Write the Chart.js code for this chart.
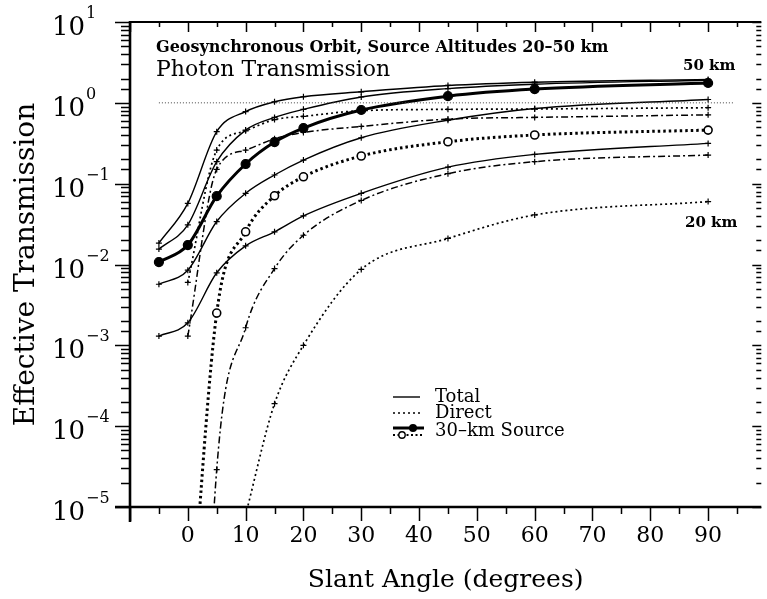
<!DOCTYPE html>
<html>
<head>
<meta charset="utf-8">
<script src="https://cdn.jsdelivr.net/npm/chart.js@4.4.1/dist/chart.umd.min.js"></script>
<style>
  html, body { margin: 0; padding: 0; background: #fff; overflow: hidden; }
</style>
</head>
<body>
<canvas id="myChart" width="767" height="599"></canvas>
<script>
// slant angles (degrees) where the curves were computed
const angles = [-5, 0, 5, 10, 15, 20, 30, 45, 60, 90];

// total transmission, one list per source altitude
const total50 = [0.0184, 0.057, 0.44, 0.78, 1.03, 1.19, 1.37, 1.64, 1.80, 1.95];
const total40 = [0.0155, 0.031, 0.187, 0.46, 0.66, 0.83, 1.18, 1.50, 1.70, 1.90];
const total30 = [0.0107, 0.0174, 0.070, 0.175, 0.327, 0.488, 0.815, 1.21, 1.48, 1.76];
const total25 = [0.0057, 0.0085, 0.034, 0.076, 0.128, 0.196, 0.37, 0.61, 0.85, 1.10];
const total20 = [0.0013, 0.0019, 0.0079, 0.017, 0.0254, 0.040, 0.076, 0.16, 0.23, 0.315];

// direct (unscattered) transmission
const direct50 = [null, 0.006, 0.26, 0.45, 0.62, 0.68, 0.80, 0.83, 0.84, 0.87];
const direct40 = [null, 0.0013, 0.15, 0.26, 0.36, 0.43, 0.51, 0.63, 0.66, 0.71];
const direct30 = [null, 1e-7, 0.00251, 0.0254, 0.0708, 0.1216, 0.22, 0.33, 0.40, 0.46];
const direct25 = [null, 1e-12, 2.9e-5, 0.00165, 0.0089, 0.023, 0.062, 0.133, 0.187, 0.226];
const direct20 = [null, null, null, 8e-6, 1.9e-4, 0.001, 0.0087, 0.021, 0.041, 0.06];

// unit transmission reference
const unityAngles = [-5, 94.5];
const unityValues = [1, 1];

const xTickValues = [0, 10, 20, 30, 40, 50, 60, 70, 80, 90];
const xTickLabels = ['0', '10', '20', '30', '40', '50', '60', '70', '80', '90'];
const xMinorTicks = [-5, 5, 15, 25, 35, 45, 55, 65, 75, 85, 95];
// y labels are 10 raised to these
const yDecades = [1e-5, 1e-4, 1e-3, 1e-2, 1e-1, 1, 10];
const yTickExponents = ['\u22125', '\u22124', '\u22123', '\u22122', '\u22121', '0', '1'];

const serif = "'DejaVu Serif', 'Liberation Serif', serif";

function pts(values, xs) {
    xs = xs || angles;
    return xs.map((x, i) => ({ x: x, y: values[i] })).filter(p => p.y !== null);
}

const thinTotal = {
    borderColor: '#000', borderWidth: 1.4, pointStyle: 'cross', pointRadius: 3,
    pointBorderWidth: 1.2, pointBorderColor: '#000', pointBackgroundColor: '#000',
    cubicInterpolationMode: 'monotone', fill: false
};
const dotted = Object.assign({}, thinTotal, { borderDash: [2, 3], borderWidth: 1.7 });
const dashDot = Object.assign({}, thinTotal, { borderDash: [7, 3, 2, 3], borderWidth: 1.5 });

const datasets = [
    Object.assign({ label: 'Unity', data: pts(unityValues, unityAngles) },
        { borderColor: '#444', borderWidth: 1, borderDash: [1, 2], pointRadius: 0, tension: 0 }),
    Object.assign({ label: 'Total 50 km', data: pts(total50) }, thinTotal),
    Object.assign({ label: 'Total 40 km', data: pts(total40) }, thinTotal),
    Object.assign({ label: 'Total 25 km', data: pts(total25) }, thinTotal),
    Object.assign({ label: 'Total 20 km', data: pts(total20) }, thinTotal),
    Object.assign({ label: 'Direct 50 km', data: pts(direct50) }, dotted),
    Object.assign({ label: 'Direct 40 km', data: pts(direct40) }, dashDot),
    Object.assign({ label: 'Direct 25 km', data: pts(direct25) }, dashDot),
    Object.assign({ label: 'Direct 20 km', data: pts(direct20) }, dotted),
    Object.assign({ label: 'Direct 30 km', data: pts(direct30) }, thinTotal,
        { borderWidth: 3, borderDash: [2.5, 3], pointStyle: 'circle', pointRadius: 4,
          pointBorderWidth: 1.6, pointBackgroundColor: '#fff' }),
    Object.assign({ label: 'Total 30 km', data: pts(total30) }, thinTotal,
        { borderWidth: 3, pointStyle: 'circle', pointRadius: 4.5, pointBackgroundColor: '#000' })
];

// frame, tick marks, power-of-ten labels, legend and the notes inside the plot
const framePlugin = {
    id: 'frame',
    afterDraw(chart) {
        const { ctx, chartArea: a, scales: { x, y } } = chart;
        ctx.save();
        ctx.strokeStyle = '#000';
        ctx.fillStyle = '#000';

        ctx.lineWidth = 2.6;
        ctx.beginPath();
        ctx.moveTo(a.left, a.top - 1); ctx.lineTo(a.left, a.bottom + 15);
        ctx.moveTo(a.left - 15, a.bottom); ctx.lineTo(a.right, a.bottom);
        ctx.stroke();
        ctx.lineWidth = 2;
        ctx.beginPath();
        ctx.moveTo(a.left, a.top); ctx.lineTo(a.right, a.top);
        ctx.stroke();

        // y ticks (left outward, right inward)
        ctx.lineWidth = 1.5;
        ctx.beginPath();
        y.ticks.forEach(t => {
            const lg = Math.log10(t.value);
            const major = Math.abs(lg - Math.round(lg)) < 1e-6;
            const py = Math.round(y.getPixelForValue(t.value)) + 0.5;
            ctx.moveTo(a.left, py); ctx.lineTo(a.left - (major ? 15 : 9), py);
            ctx.moveTo(a.right, py); ctx.lineTo(a.right - (major ? 9 : 5), py);
        });
        // x ticks (bottom outward, top inward)
        xTickValues.concat([-10]).forEach(v => {
            const px = Math.round(x.getPixelForValue(v)) + 0.5;
            ctx.moveTo(px, a.bottom); ctx.lineTo(px, a.bottom + 14);
            ctx.moveTo(px, a.top); ctx.lineTo(px, a.top + 10);
        });
        xMinorTicks.forEach(v => {
            const px = Math.round(x.getPixelForValue(v)) + 0.5;
            ctx.moveTo(px, a.bottom); ctx.lineTo(px, a.bottom + 7);
            ctx.moveTo(px, a.top); ctx.lineTo(px, a.top + 5);
        });
        ctx.stroke();

        // 10^n labels, left aligned like the original
        ctx.textAlign = 'left';
        ctx.textBaseline = 'alphabetic';
        yDecades.forEach((v, i) => {
            const py = y.getPixelForValue(v);
            ctx.font = '26px ' + serif;
            ctx.fillText('10', 52, py + 13);
            const w = ctx.measureText('10').width;
            ctx.font = '16px ' + serif;
            ctx.fillText(yTickExponents[i], 52 + w + 1, py - 4);
        });

        // notes
        ctx.font = 'bold 16px ' + serif;
        ctx.fillText('Geosynchronous Orbit, Source Altitudes 20\u201350 km', 156, 52);
        ctx.font = '22px ' + serif;
        ctx.fillText('Photon Transmission', 156, 76);
        ctx.font = 'bold 15px ' + serif;
        ctx.fillText('50 km', 683, 70);
        ctx.fillText('20 km', 685, 227);

        // legend
        const lx0 = 393, lx1 = 420, tx = 435;
        ctx.lineWidth = 1.4;
        ctx.setLineDash([]);
        ctx.beginPath(); ctx.moveTo(lx0, 397); ctx.lineTo(lx1, 397); ctx.stroke();
        ctx.lineWidth = 1.7;
        ctx.setLineDash([2, 3]);
        ctx.beginPath(); ctx.moveTo(lx0, 413); ctx.lineTo(lx1, 413); ctx.stroke();
        ctx.lineWidth = 3;
        ctx.setLineDash([]);
        ctx.beginPath(); ctx.moveTo(lx0, 428); ctx.lineTo(lx1 + 4, 428); ctx.stroke();
        ctx.beginPath(); ctx.arc(413, 428, 4, 0, Math.PI * 2); ctx.fill();
        ctx.lineWidth = 2.2;
        ctx.setLineDash([2, 2.5]);
        ctx.beginPath(); ctx.moveTo(lx0, 435); ctx.lineTo(lx1 + 4, 435); ctx.stroke();
        ctx.setLineDash([]);
        ctx.lineWidth = 1.4;
        ctx.fillStyle = '#fff';
        ctx.beginPath(); ctx.arc(402, 435, 3.2, 0, Math.PI * 2); ctx.fill(); ctx.stroke();
        ctx.fillStyle = '#000';
        ctx.font = '18px ' + serif;
        ctx.textBaseline = 'middle';
        ctx.fillText('Total', tx, 397);
        ctx.fillText('Direct', tx, 413);
        ctx.fillText('30\u2013km Source', tx, 431);
        ctx.restore();
    }
};

new Chart(document.getElementById('myChart').getContext('2d'), {
    type: 'line',
    data: { datasets: datasets },
    options: {
        responsive: false,
        devicePixelRatio: 1,
        animation: false,
        layout: { padding: { left: 0, right: 1, top: 22, bottom: 0 } },
        plugins: { legend: { display: false }, tooltip: { enabled: false } },
        scales: {
            x: {
                type: 'linear',
                min: -10,
                max: 99.2,
                grid: { display: false, drawTicks: false },
                border: { display: false },
                ticks: {
                    stepSize: 10,
                    includeBounds: false,
                    autoSkip: false,
                    maxRotation: 0,
                    padding: 16,
                    color: '#000',
                    font: { family: serif, size: 22 },
                    callback: function(value) {
                        const i = xTickValues.indexOf(value);
                        return i >= 0 ? xTickLabels[i] : '';
                    }
                },
                title: {
                    display: true,
                    text: 'Slant Angle (degrees)',
                    color: '#000',
                    font: { family: serif, size: 25 },
                    padding: { top: 0, bottom: 4 }
                },
                afterFit: function(scale) {
                    scale.height = 92;
                    scale.paddingLeft = 0;
                    scale.paddingRight = 0;
                }
            },
            y: {
                type: 'logarithmic',
                min: 1e-5,
                max: 10,
                grid: { display: false, drawTicks: false },
                border: { display: false },
                ticks: { display: false, autoSkip: false },
                title: {
                    display: true,
                    text: 'Effective Transmission',
                    color: '#000',
                    font: { family: serif, size: 28 },
                    padding: { top: 10, bottom: 0 }
                },
                afterFit: function(scale) {
                    scale.width = 130;
                    scale.paddingTop = 0;
                    scale.paddingBottom = 0;
                }
            }
        }
    },
    plugins: [framePlugin]
});
</script>
</body>
</html>
